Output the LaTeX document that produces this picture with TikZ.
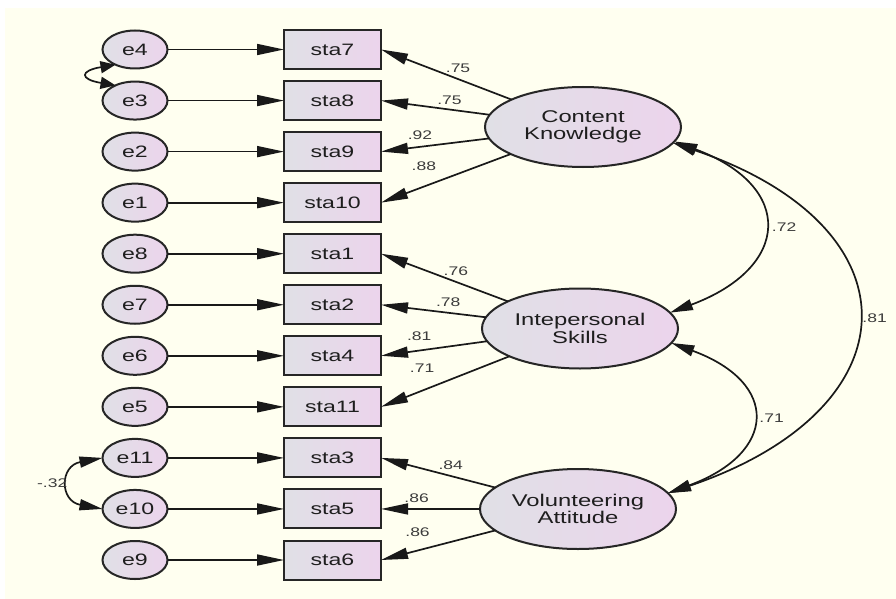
\documentclass[tikz,border=0pt]{standalone}
\usepackage{fontspec}
\setmainfont{Liberation Sans}[FakeStretch=1.4]
\usepackage{xcolor}
\usetikzlibrary{arrows.meta}
\usetikzlibrary{positioning}
\usetikzlibrary{shapes.geometric}

\definecolor{bgcream}{RGB}{255,255,240}
\definecolor{fillgrey}{RGB}{224,224,230}
\definecolor{fillpink}{RGB}{236,212,236}
\definecolor{textdark}{RGB}{30,30,30}
\definecolor{textgrey}{RGB}{60,60,60}

\begin{document}
\begin{tikzpicture}[
    x=1pt,y=-1pt, % one unit = one pixel of the reference, y downwards
    outer sep=0pt,node distance=13.05pt,
    errnode/.style={draw=black!85,line width=2pt,ellipse,inner sep=0pt,minimum width=65pt,minimum height=38pt,
                    left color=fillgrey,right color=fillpink,text=textdark,font=\fontsize{16.5}{18}\selectfont},
    itembox/.style={draw=black!85,line width=2pt,rectangle,minimum width=97pt,minimum height=39pt,
                    left color=fillgrey,right color=fillpink,text=textdark,font=\fontsize{16.5}{18}\selectfont},
    latent/.style={draw=black!85,line width=2pt,ellipse,inner sep=0pt,minimum width=196pt,minimum height=80pt,align=center,
                    left color=fillgrey,right color=fillpink,text=textdark,font=\fontsize{17}{17.5}\selectfont},
    loadarr/.style={-{Triangle[length=27pt,width=11pt]},line width=1.7pt,black!90},
    covarr/.style={{Triangle[length=23pt,width=11pt]}-{Triangle[length=23pt,width=11pt]},line width=1.7pt,black!90},
    smallcov/.style={{Triangle[length=15pt,width=12pt]}-{Triangle[length=15pt,width=12pt]},line width=1.7pt,black!90},
    coeff/.style={inner sep=0pt,text=textgrey,font=\fontsize{12.5}{13}\selectfont},
    ]
    \useasboundingbox (0,0) rectangle (896,599);
    \fill[white]   (0,0) rectangle (896,599);
    \fill[bgcream] (5,8) rectangle (896,599);

    % error terms, one column
    \node (e4)  at (135,49.5)     [errnode] {e4};
    \node (e3)  [below=of e4]     [errnode] {e3};
    \node (e2)  [below=of e3]     [errnode] {e2};
    \node (e1)  [below=of e2]     [errnode] {e1};
    \node (e8)  [below=of e1]     [errnode] {e8};
    \node (e7)  [below=of e8]     [errnode] {e7};
    \node (e6)  [below=of e7]     [errnode] {e6};
    \node (e5)  [below=of e6]     [errnode] {e5};
    \node (e11) [below=of e5]     [errnode] {e11};
    \node (e10) [below=of e11]    [errnode] {e10};
    \node (e9)  [below=of e10]    [errnode] {e9};

    % observed items
    \node (sta7)  [right=116.5pt of e4]  [itembox] {sta7};
    \node (sta8)  [right=116.5pt of e3]  [itembox] {sta8};
    \node (sta9)  [right=116.5pt of e2]  [itembox] {sta9};
    \node (sta10) [right=116.5pt of e1]  [itembox] {sta10};
    \node (sta1)  [right=116.5pt of e8]  [itembox] {sta1};
    \node (sta2)  [right=116.5pt of e7]  [itembox] {sta2};
    \node (sta4)  [right=116.5pt of e6]  [itembox] {sta4};
    \node (sta11) [right=116.5pt of e5]  [itembox] {sta11};
    \node (sta3)  [right=116.5pt of e11] [itembox] {sta3};
    \node (sta5)  [right=116.5pt of e10] [itembox] {sta5};
    \node (sta6)  [right=116.5pt of e9]  [itembox] {sta6};

    \draw [loadarr] (e4)  -- (sta7);
    \draw [loadarr] (e3)  -- (sta8);
    \draw [loadarr] (e2)  -- (sta9);
    \draw [loadarr] (e1)  -- (sta10);
    \draw [loadarr] (e8)  -- (sta1);
    \draw [loadarr] (e7)  -- (sta2);
    \draw [loadarr] (e6)  -- (sta4);
    \draw [loadarr] (e5)  -- (sta11);
    \draw [loadarr] (e11) -- (sta3);
    \draw [loadarr] (e10) -- (sta5);
    \draw [loadarr] (e9)  -- (sta6);

    % latent factors
    \node (ck) at (583,127)   [latent] {Content\\Knowledge};
    \node (is) at (580,328.5) [latent] {Intepersonal\\Skills};
    \node (va) at (578,509)   [latent] {Volunteering\\Attitude};

    \draw [loadarr] (ck) -- (sta7.east)  node (ld7)  [coeff,pos=.41,yshift=11pt]   {.75};
    \draw [loadarr] (ck) -- (sta8.east)  node (ld8)  [coeff,pos=.37,yshift=9.6pt]  {.75};
    \draw [loadarr] (ck) -- (sta9.east)  node (ld9)  [coeff,pos=.64,yshift=12pt]   {.92};
    \draw [loadarr] (ck) -- (sta10.east) node (ld10) [coeff,pos=.67,yshift=20pt]   {.88};

    \draw [loadarr] (is) -- (sta1.east)  node (ld1)  [coeff,pos=.41,yshift=11pt]   {.76};
    \draw [loadarr] (is) -- (sta2.east)  node (ld2)  [coeff,pos=.36,yshift=11pt]   {.78};
    \draw [loadarr] (is) -- (sta4.east)  node (ld4)  [coeff,pos=.64,yshift=14.6pt] {.81};
    \draw [loadarr] (is) -- (sta11.east) node (ld11) [coeff,pos=.68,yshift=22.8pt] {.71};

    \draw [loadarr] (va) -- (sta3.east)  node (ld3)  [coeff,pos=.39,yshift=11pt]   {.84};
    \draw [loadarr] (va) -- (sta5.east)  node (ld5)  [coeff,pos=.64,yshift=10.7pt] {.86};
    \draw [loadarr] (va) -- (sta6.east)  node (ld6)  [coeff,pos=.68,yshift=18.7pt] {.86};

    % factor correlations
    \draw [covarr] (ck.-9)  .. controls +(121,45) and +(121,-45) .. (is.10) node (r72) [coeff,pos=.5,right=9pt] {.72};
    \draw [covarr] (is.-9)  .. controls +(109,40) and +(109,-40) .. (va.10) node (r71) [coeff,pos=.5,right=8pt] {.71};
    \draw [covarr] (ck.-10) .. controls +(248,84) and +(248,-84) .. (va.10) node (r81) [coeff,pos=.5,right=6pt] {.81};

    % error covariances
    \draw [smallcov] (e4.218)    .. controls +(-36,6) and +(-36,-6) .. (e3.142);
    \draw [covarr]   (e11.west)  .. controls +(-43,8) and +(-43,-8) .. (e10.west) node (r32) [coeff,pos=.5,left=3pt] {-.32};
\end{tikzpicture}
\end{document}
